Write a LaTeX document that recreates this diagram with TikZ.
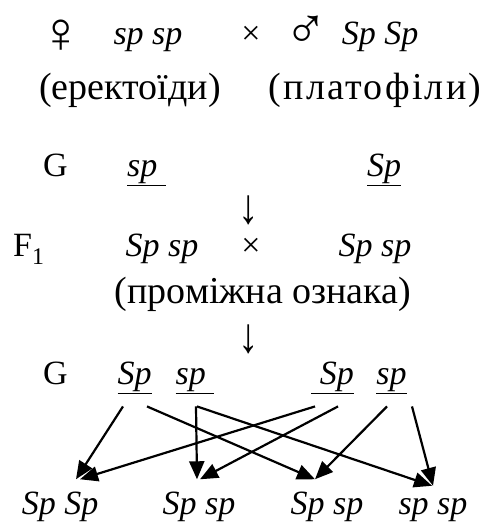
\documentclass[tikz,border=0pt]{standalone}
\usepackage{graphicx}
\usepackage{fontspec}
\setmainfont{Liberation Serif}
\usetikzlibrary{arrows.meta}

\newcommand{\bigsym}[1]{\scalebox{1.7}{#1}}
\newcommand{\tallarrow}{\scalebox{1.2}[1.45]{↓}}

\begin{document}
\begin{tikzpicture}[x=1pt, y=1pt, font=\fontsize{34}{40}\selectfont,
  every node/.style={inner sep=0pt, anchor=base},
  cyr/.style={font=\fontsize{38}{44}\selectfont},
  arr/.style={-{Triangle[length=18pt, width=15pt]}, line width=2.2pt}]
\useasboundingbox (0,0) rectangle (497,525);

% Parents
\node[anchor=south] (fem) at (61, 472) {\bigsym{♀}};
\node (pfem) at (148, 480) {\textit{sp sp}};
\node (cross) at (251, 480) {×};
\node[anchor=south] (mal) at (306, 476) {\bigsym{♂}};
\node (pmal) at (380, 480) {\textit{Sp Sp}};
\node[cyr] (tfem) at (130, 425) {(еректоїди)};
\node[cyr] (tmal) at (375, 425) {\addfontfeature{LetterSpace=6}(платофіли)};

% Gametes of parents
\node (G) at (55.5, 348) {G};
\node (gfem) at (146.5, 348) {\underline{\textit{sp}\ }};
\node (gmal) at (384, 348) {\underline{\textit{Sp}}};
\node[anchor=south] (down) at (249, 300) {\tallarrow};

% F1
\node[anchor=base west] (F) at (13, 268) {F\textsubscript{1}};
\node (f1a) at (162, 268) {\textit{Sp sp}};
\node (crossF) at (251, 268) {×};
\node (f1b) at (375, 268) {\textit{Sp sp}};
\node[cyr] (tF) at (263, 221) {(проміжна ознака)};
\node[anchor=south] (downF) at (249, 171) {\tallarrow};

% Gametes of F1
\node (GF) at (55.5, 140) {G};
\node (gSpa) at (134.5, 140) {\underline{\textit{Sp}}};
\node (gspa) at (195, 140) {\underline{\textit{sp}\ }};
\node (gSpb) at (332.5, 140) {\underline{\ \textit{Sp}}};
\node (gspb) at (391.5, 140) {\underline{\textit{sp}}};

% F2
\foreach \n/\x/\gt in {o1/60/Sp Sp, o2/199/Sp sp, o3/327/Sp sp, o4/433/sp sp}
    \node (\n) at (\x, 10) {\textit{\gt}};

\foreach \a/\dx/\b/\ex in {gSpa/-11.5/o1/16, gSpa/12.5/o3/-12, gspa/1/o2/-2,
    gspa/2/o4/-1, gSpb/-17.5/o1/20, gSpb/5.5/o2/1, gspb/-4.5/o3/-12, gspb/20.5/o4/0}
    \draw[arr] ([shift={(\dx,-12)}]\a.south) -- ([shift={(\ex,13)}]\b.north);
\end{tikzpicture}
\end{document}
